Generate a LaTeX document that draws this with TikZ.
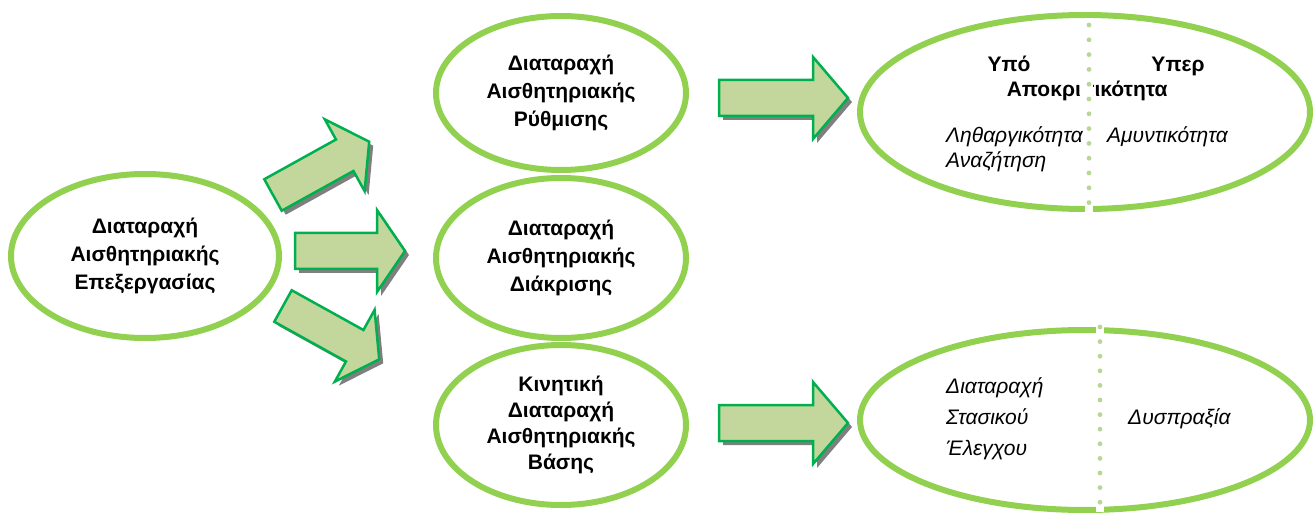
\documentclass[tikz,border=0pt]{standalone}
\usepackage{fontspec}
\setmainfont{Liberation Sans}
\usetikzlibrary{shapes.geometric}
\definecolor{ellgreen}{HTML}{92D050}
\definecolor{arrfill}{HTML}{C3D69B}
\definecolor{arrline}{HTML}{00B050}
\definecolor{dotgreen}{HTML}{B9D694}
\definecolor{shadowgrey}{HTML}{7F7F7F}
\tikzset{
  ell/.style={ellipse, draw=ellgreen, line width=6pt, align=center, inner sep=0pt,
    font=\bfseries\fontsize{21}{28}\selectfont},
  boldtxt/.style={font=\bfseries\fontsize{21}{28}\selectfont, inner sep=0pt},
  itxt/.style={font=\itshape\fontsize{21}{25}\selectfont, inner sep=0pt, align=left},
  arrowbox/.style={fill=arrfill, draw=arrline, line width=2.5pt, line join=miter},
  arrowshadow/.style={fill=shadowgrey},
  dotdot/.style={fill=dotgreen},
}
% x, y, angle, length, head length
\newcommand{\blockarr}[5]{%
  \begin{scope}[shift={({#1+4},{#2-4})},rotate=#3]
    \fill[arrowshadow] (0,-18) -- ({#4-#5},-18) -- ({#4-#5},-41) -- (#4,0) -- ({#4-#5},41) -- ({#4-#5},18) -- (0,18) -- cycle;
  \end{scope}
  \begin{scope}[shift={(#1,#2)},rotate=#3]
    \draw[arrowbox] (0,-18) -- ({#4-#5},-18) -- ({#4-#5},-41) -- (#4,0) -- ({#4-#5},41) -- ({#4-#5},18) -- (0,18) -- cycle;
  \end{scope}}
\begin{document}
\begin{tikzpicture}[x=1pt,y=1pt]
\useasboundingbox (0,0) rectangle (1314,512);
% ellipses
\node[ell, minimum width=268pt, minimum height=164pt] (e0) at (145,256)
  {Διαταραχή\\Αισθητηριακής\\Επεξεργασίας};
\node[ell, minimum width=250pt, minimum height=154pt] (e1) at (561,419)
  {Διαταραχή\\Αισθητηριακής\\Ρύθμισης};
\node[ell, minimum width=250pt, minimum height=160pt] (e2) at (561,254)
  {Διαταραχή\\Αισθητηριακής\\Διάκρισης};
\node[ell, minimum width=250pt, minimum height=160pt] (e3) at (561,87)
  {Κινητική\\[-2pt]Διαταραχή\\[-2pt]Αισθητηριακής\\[-2pt]Βάσης};
\node[ell, minimum width=450pt, minimum height=194pt] (r1) at (1085,400) {};
\node[ell, minimum width=450pt, minimum height=180pt] (r2) at (1085,92) {};
% block arrows
\blockarr{273}{317}{29}{110}{28}
\blockarr{295}{261}{0}{110}{28}
\blockarr{283}{206}{-29}{110}{28}
\blockarr{719}{414}{0}{129}{35}
\blockarr{719}{89}{0}{129}{35}
% texts in right ellipses
\node[boldtxt, anchor=base] (t1) at (1009,440) {Υπό};
\node[boldtxt, anchor=base] (t2) at (1178,440) {Υπερ};
\node[boldtxt, anchor=base east] (t3) at (1081,415) {Αποκρι};
\node[boldtxt, anchor=base west] (t4) at (1085,415) {τικότητα};
\node[itxt, anchor=base west] (t5) at (946,369) {Ληθαργικότητα};
\node[itxt, anchor=base west] (t6) at (946,344) {Αναζήτηση};
\node[itxt, anchor=base west] (t7) at (1107,369) {Αμυντικότητα};
\node[itxt, anchor=base west] (t8) at (946,119) {Διαταραχή};
\node[itxt, anchor=base west] (t9) at (946,88) {Στασικού};
\node[itxt, anchor=base west] (t10) at (946,57) {Έλεγχου};
\node[itxt, anchor=base west] (t11) at (1128,88) {Δυσπραξία};
% dotted dividers
\fill[white] (1085,494) rectangle (1093,296);
\foreach \i in {0,...,12} \fill[dotdot] (1089,{487-\i*14.8}) circle (2.4);
\fill[white] (1096,192) rectangle (1104,0);
\foreach \i in {0,...,12} \fill[dotdot] (1100,{185-\i*14.6}) circle (2.4);
\end{tikzpicture}
\end{document}
